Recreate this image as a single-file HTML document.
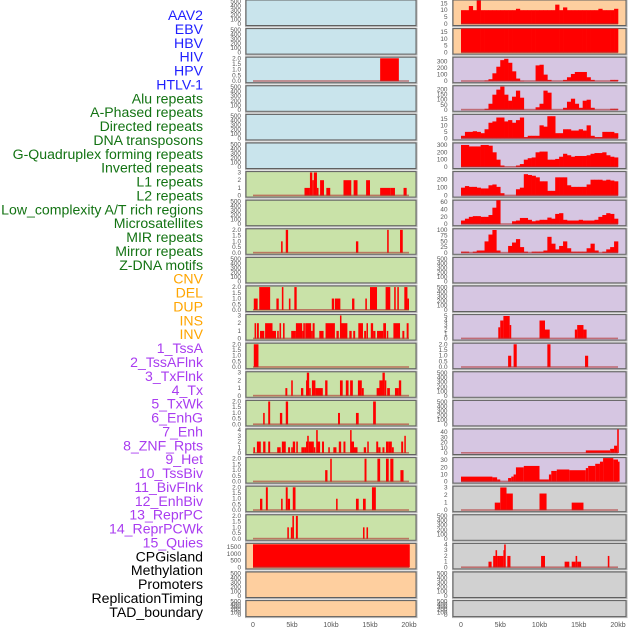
<!DOCTYPE html>
<html><head><meta charset="utf-8"><style>
html,body{margin:0;padding:0;background:#fff;}
svg{display:block;}
text{font-family:"Liberation Sans",sans-serif;}
</style></head><body>
<svg id="chart" width="630" height="630" viewBox="0 0 630 630">
<g id="labels"></g>
<g id="panels"></g>
<g id="xaxis"></g>
</svg>
<script>
const trackNames = ["AAV2","EBV","HBV","HIV","HPV","HTLV-1","Alu repeats","A-Phased repeats","Directed repeats","DNA transposons","G-Quadruplex forming repeats","Inverted repeats","L1 repeats","L2 repeats","Low_complexity A/T rich regions","Microsatellites","MIR repeats","Mirror repeats","Z-DNA motifs","CNV","DEL","DUP","INS","INV","1_TssA","2_TssAFlnk","3_TxFlnk","4_Tx","5_TxWk","6_EnhG","7_Enh","8_ZNF_Rpts","9_Het","10_TssBiv","11_BivFlnk","12_EnhBiv","13_ReprPC","14_ReprPCWk","15_Quies","CPGisland","Methylation","Promoters","ReplicationTiming","TAD_boundary"];
const trackGroups = ["v","v","v","v","v","v","r","r","r","r","r","r","r","r","r","r","r","r","r","s","s","s","s","s","c","c","c","c","c","c","c","c","c","c","c","c","c","c","c","o","o","o","o","o"];
const xTickValues = [0,5,10,15,20];
const xTickLabels = ["0","5kb","10kb","15kb","20kb"];

const col1Bg = ["b","b","b","b","b","b","g","g","g","g","g","g","g","g","g","g","g","g","g","p","p","p"];
const col1Ticks = [
 [0,100,200,300,400,500],[0,100,200,300,400,500],[0,0.5,1,1.5,2],[0,100,200,300,400,500],[0,100,200,300,400,500],[0,100,200,300,400,500],
 [0,1,2,3],[0,100,200,300,400,500],[0,0.5,1,1.5,2],[0,100,200,300,400,500],[0,0.5,1,1.5,2],[0,1,2,3],[0,0.5,1,1.5,2],[0,1,2,3],
 [0,0.5,1,1.5,2],[0,1,2,3,4],[0,0.5,1,1.5,2],[0,0.5,1,1.5,2],[0,0.5,1,1.5,2],[0,500,1000,1500],[0,100,200,300,400,500],[0,100,200,300,400,500]];
const col1Max = [520,520,2.05,520,520,520,3.05,520,2.05,520,2.05,3.05,2.05,3.05,2.05,4.1,2.05,2.05,2.05,1730,520,520];
const col1Data = [
 [],[],
 [[16.3,18.7,2]],
 [],[],[],
 [[6.6,7.3,1],[7.3,7.6,3],[7.6,7.8,2],[7.8,8.2,3],[8.2,8.4,1],[8.6,9.1,2],[9.4,9.9,1],[11.6,12.6,2],[12.9,13.4,2],[14.5,15.0,2],[16.3,17.6,1],[17.6,18.2,1],[19.3,19.7,1]],
 [],
 [[3.6,3.8,1],[4.2,4.5,2],[13.2,13.5,1],[17.2,17.4,2],[18.85,19.2,2]],
 [],
 [[0.1,0.6,1],[0.8,2.2,2],[3.0,3.3,1],[3.7,3.9,2],[4.6,4.8,1],[5.3,5.6,2],[10.1,10.4,1],[10.5,11.2,1],[12.7,13.0,1],[14.4,14.6,1],[15.0,15.9,2],[17.0,17.6,2],[18.1,18.3,2],[18.5,18.7,2],[19.4,19.8,2],[19.8,20.0,1]],
 [[0.2,0.35,2],[0.5,0.75,2],[0.9,1.45,1],[1.55,2.5,2],[2.5,2.95,1],[3.1,3.3,1],[3.4,3.6,2],[3.85,4.05,2],[4.9,5.5,1],[5.5,6.3,2],[6.3,6.45,1],[6.45,6.65,2],[6.7,7.45,2],[7.45,7.65,1],[7.65,7.9,2],[8.5,9.05,1],[9.3,10.5,2],[10.7,11.0,1],[11.15,11.3,3],[11.3,12.1,2],[12.35,12.65,1],[12.85,13.1,1],[13.5,14.1,2],[14.25,14.5,1],[14.55,14.7,2],[15.1,15.4,2],[15.4,15.7,1],[15.9,16.7,1],[16.7,17.05,2],[17.15,17.3,1],[18.0,18.85,2],[19.15,19.4,1],[19.7,19.95,2]],
 [[0.1,0.7,2]],
 [[4.15,4.4,1],[4.9,5.1,2],[6.15,6.45,1],[6.8,7.1,2],[6.9,7.2,3],[7.2,7.4,1],[7.55,8.0,2],[8.0,8.95,1],[9.25,9.55,2],[11.15,11.5,2],[11.9,12.25,2],[12.45,12.8,2],[13.45,13.95,2],[13.95,14.2,1],[15.85,16.3,1],[16.2,16.6,2],[16.6,16.9,3],[16.9,17.05,2],[17.2,17.55,1],[18.2,18.7,1],[18.7,19.0,2]],
 [[1.3,1.5,1],[1.95,2.2,2],[3.45,3.75,1],[4.2,4.5,2],[10.9,11.15,1],[13.2,13.55,1],[15.4,15.75,2]],
 [[0.05,0.25,1],[0.5,1.0,2],[1.3,1.6,2],[1.95,2.2,2],[3.1,3.55,1],[3.7,4.2,2],[4.5,4.75,1],[4.9,5.1,1],[5.1,5.4,2],[5.55,5.75,2],[6.2,6.55,1],[6.55,6.8,1],[6.8,6.95,2],[6.95,7.15,3],[7.15,7.8,2],[7.8,8.0,1],[8.1,8.3,4],[8.25,8.6,2],[8.85,9.1,2],[9.65,9.85,1],[10.3,10.7,1],[11.0,11.3,2],[11.6,11.85,2],[12.45,12.6,4],[12.6,12.95,2],[12.95,13.4,1],[14.2,14.5,1],[14.65,14.8,2],[15.8,16.05,2],[16.05,16.35,1],[16.6,16.85,1],[17.05,17.35,2],[17.35,17.8,2],[17.8,18.05,1],[19.0,19.25,2],[19.4,19.55,3]],
 [[9.25,9.55,1],[9.9,10.1,2],[14.3,14.55,2],[15.95,16.3,2],[17.05,17.4,2],[17.6,18.0,2],[18.9,19.3,1]],
 [[0.9,1.2,1],[1.65,1.9,2],[3.6,3.8,1],[4.2,4.45,2],[4.45,4.75,1],[5.1,5.45,2],[10.65,10.85,1],[13.2,13.55,1],[14.1,14.45,1],[15.25,15.75,2]],
 [[4.4,4.6,1],[4.85,5.05,1],[5.05,5.25,2],[5.5,5.75,2],[14.1,14.3,1],[14.55,14.75,1]],
 [[0,20.1,1700]],
 [],[]
];

const col2Bg = ["p","p","l","l","l","l","l","l","l","l","l","l","l","l","l","l","l","y","y","y","y","y"];
const col2Ticks = [
 [0,5,10,15],[0,5,10,15],[0,100,200,300],[0,50,100,150,200],[0,5,10,15],[0,100,200,300],[0,100,200],[0,20,40,60],[0,25,50,75,100],
 [0,100,200,300,400,500],[0,100,200,300,400,500],[0,1,2,3,4,5],[0,0.5,1,1.5,2],[0,100,200,300,400,500],[0,100,200,300,400,500],
 [0,10,20,30,40],[0,10,20,30],[0,1,2,3],[0,100,200,300,400,500],[0,1,2,3,4],[0,100,200,300,400,500],[0,100,200,300,400,500]];
const col2Max = [17,17,357,233,18,320,296,64,103,520,520,5.2,2.05,520,520,45,33,3.1,520,4.1,520,520];
const aav2Bins = [10,10,13,10,17,10,10,10,10,10,10,10,10,10,11,10,10,10,10,10,10,10,10,10,14,10,12,10,10,10,10,10,10,10,10,11,10,10,10,11];
const ebvBins = [20,20,20,20,20,20,20,20,20,20,20,20,20,20,20,20,20,20,20,20,20,20,20,20,20,20,20,20,20,20,20,20,20,20,20,20,20,20,20,20];
const row2Bins = [0,0,0,0,0,0,10,30,120,220,320,340,280,150,40,5,0,0,0,240,250,100,20,0,0,0,20,60,110,140,140,140,60,20,0,0,0,0,20,20];
const row3Bins = [0,0,0,0,0,0,10,60,150,200,230,150,90,130,190,120,0,0,0,25,60,190,170,0,0,0,20,80,110,60,20,90,100,20,0,0,0,0,10,10];
const row4Bins = [2,5,5,5.5,5,4,7,12,13,16,16,13,14,12,14,16,1,2,2,2,10,9,17,17,4,4,7,7,6,6,7,6,10,2,1,1,5,5,5,4];
const row5Bins = [300,300,280,280,280,300,300,290,200,100,20,0,0,0,20,40,100,120,130,200,210,210,100,100,110,140,180,160,140,150,150,150,160,180,190,190,200,160,140,130];
const row6Bins = [100,120,110,110,100,90,90,130,140,110,30,0,0,0,80,100,270,260,250,230,180,180,60,60,230,230,230,130,110,110,110,110,140,200,200,200,190,200,190,180];
const row7Bins = [10,15,20,22,22,20,20,25,45,70,0,0,0,8,10,17,17,12,8,10,12,12,18,15,28,30,12,10,10,10,12,10,10,10,12,20,25,30,28,15];
const row8Bins = [5,5,0,5,10,10,50,80,100,10,0,0,30,45,60,25,5,0,5,5,5,10,70,40,15,30,50,20,5,5,5,5,20,40,10,0,5,15,25,50];
const col2Bins = [aav2Bins,ebvBins,row2Bins,row3Bins,row4Bins,row5Bins,row6Bins,row7Bins,row8Bins];
const col2Segs = [
 null,null,null,null,null,null,null,null,null,
 [],[],
 [[4.75,5.0,2.5],[5.0,5.4,4],[5.4,6.2,5],[6.2,6.4,3],[10.0,10.7,4],[10.7,11.3,2],[14.5,14.8,2],[14.8,15.6,3],[15.6,16.0,2]],
 [[6.0,6.4,1],[6.7,7.1,2],[11.0,11.4,2],[15.8,16.2,1]],
 [],[],
 [[15.9,19.0,5],[19.0,19.5,8],[19.5,19.9,14],[19.9,20.1,45]],
 [[0,4,7],[4,4.6,6],[4.6,5.0,3],[6.0,6.4,5],[6.4,6.7,7],[6.7,7.0,10],[7.0,8.0,20],[8.0,10.0,22],[10.0,11.2,3],[11.2,11.5,10],[11.5,12.2,15],[12.2,13.8,17],[13.8,15.9,16],[15.9,16.2,19],[16.2,17.1,22],[17.1,17.7,25],[17.7,18.1,28],[18.1,19.4,33],[19.4,20.0,31],[20.0,20.2,28]],
 [[4.3,5.0,1],[5.0,5.8,3],[5.8,6.6,2.2],[10.0,10.9,2.2],[14.1,15.6,1]],
 [],
 [[3.5,3.9,1],[4.1,4.4,2],[4.4,4.6,3],[4.6,4.9,2],[4.9,5.4,2],[5.4,5.5,3],[5.5,5.7,4],[5.9,6.3,2],[10.2,10.7,2],[13.2,13.8,1],[14.1,14.6,1],[14.6,14.8,2],[14.8,15.3,1],[18.7,18.9,2]],
 [],[]
];

const NS = "http://www.w3.org/2000/svg";
const bgColors = {b:"#c9e4ec", g:"#c9e2a8", p:"#fecf9f", l:"#d6c6e2", y:"#d1d1d1"};
const groupColors = {v:"#1f1fff", r:"#137313", s:"#ffa500", c:"#a93cf0", o:"#000000"};
function mk(tag, attrs, parent){ const e=document.createElementNS(NS,tag); for(const k in attrs) e.setAttribute(k,attrs[k]); parent.appendChild(e); return e; }

const lg = document.getElementById("labels");
trackNames.forEach((n,i)=>{
  const t = mk("text",{x:203,y:20+i*13.88,"text-anchor":"end","font-size":"14.1",fill:groupColors[trackGroups[i]]},lg);
  t.textContent = n;
  
  
});

const cols = [
  {x0:246,x1:416,z:253,s:7.8,tickX:241,bg:col1Bg,ticks:col1Ticks,max:col1Max},
  {x0:453,x1:626,z:461,s:7.85,tickX:447.5,bg:col2Bg,ticks:col2Ticks,max:col2Max}
];
const pg = document.getElementById("panels");
function rowTop(i){ return i*28.6; }
function rowH(i){ return i===21?16:25.5; }

cols.forEach((c,ci)=>{
  const xs = kb => c.z + kb*c.s;
  for(let r=0;r<22;r++){
    const top=rowTop(r), h=rowH(r), bot=top+h;
    const ymax=c.max[r];
    const ys = v => bot-1.5 - Math.min(v,ymax*1.05)/ymax*(h-2);
    const g = mk("g",{},pg);
    
    
    mk("rect",{x:c.x0-0.5,y:top-0.5,width:c.x1-c.x0+1.5,height:h+1.5,fill:"none",stroke:"#b5b5b5","stroke-width":1},g);
    mk("rect",{x:c.x0,y:top,width:c.x1-c.x0,height:h,fill:bgColors[c.bg[r]],stroke:"#606060","stroke-width":1},g);
    c.ticks[r].forEach(tv=>{
      const t=mk("text",{x:c.tickX,y:ys(tv)+2,"text-anchor":"end","font-size":"6.4",fill:"#555"},g);
      t.textContent = (c.ticks[r].includes(0.5)? tv.toFixed(1) : String(tv));
      
      
    });
    const cl = "clip"+ci+"_"+r;
    const cp = mk("clipPath",{id:cl},g);
    mk("rect",{x:c.x0,y:top,width:c.x1-c.x0,height:h},cp);
    const dg = mk("g",{"clip-path":"url(#"+cl+")"},g);
    let hasData=false;
    if(ci===1 && r<col2Bins.length){
      hasData=true;
      col2Bins[r].forEach((v,i)=>{
        if(v<=0) return;
        const b=mk("rect",{x:xs(i*0.5),y:ys(v),width:xs((i+1)*0.5)-xs(i*0.5)+0.3,height:bot-1.5-ys(v),fill:"#ff0000"},dg);
        
        
      });
    } else {
      const segs = ci===0 ? col1Data[r] : col2Segs[r];
      if(segs && segs.length){
        hasData=true;
        segs.forEach(sg=>{
          const b=mk("rect",{x:xs(sg[0]),y:ys(sg[2]),width:Math.max(1.5,xs(sg[1])-xs(sg[0])),height:bot-1.5-ys(sg[2]),fill:"#ff0000"},dg);
          
          
        });
      }
    }
    if(hasData){
      const bl=mk("rect",{x:xs(0),y:bot-2.5,width:xs(20)-xs(0),height:1.6,fill:"#b03030","fill-opacity":0.6},dg);
      
      
    }
  }
  const xg=document.getElementById("xaxis");
  xTickValues.forEach((v,i)=>{
    const t=mk("text",{x:xs(v),y:627,"text-anchor":"middle","font-size":"7",fill:"#555"},xg);
    t.textContent=xTickLabels[i];
    
    
  });
});
</script>
</body></html>
